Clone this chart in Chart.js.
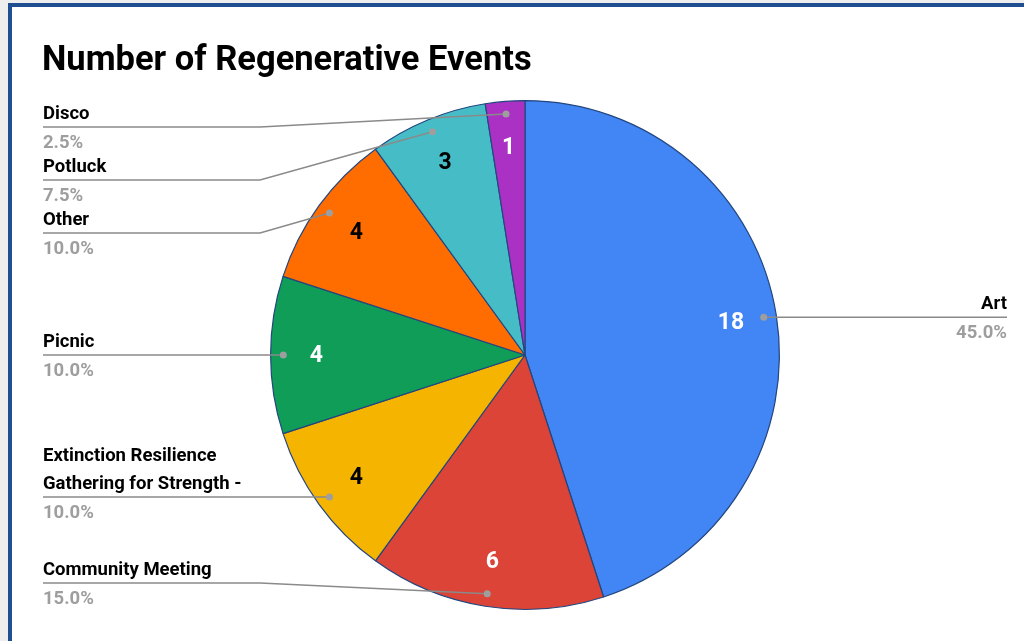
<!DOCTYPE html>
<html>
<head>
<meta charset="utf-8">
<script src="https://cdn.jsdelivr.net/npm/chart.js@4"></script>
<style>
html,body{margin:0;padding:0;background:#fff;}
#wrap{position:absolute;left:0;top:0;width:1024px;height:641px;}
</style>
</head>
<body>
<div id="wrap"><canvas id="c" width="1024" height="641"></canvas></div>
<script>
const title = "Number of Regenerative Events";
const categories = ["Art", "Community Meeting", "Extinction Resilience Gathering for Strength -", "Picnic", "Other", "Potluck", "Disco"];
const values = [18, 6, 4, 4, 4, 3, 1];
const colors = ["#4285f4", "#db4437", "#f4b400", "#0f9d58", "#ff6d01", "#46bdc6", "#ab30c4"];
const valueLabelColors = ["#ffffff", "#ffffff", "#000000", "#ffffff", "#000000", "#000000", "#ffffff"];

const FONT = "Roboto, 'Liberation Sans', sans-serif";

const framePlugin = {
  id: 'frame',
  beforeDraw(chart) {
    const ctx = chart.ctx;
    ctx.save();
    ctx.fillStyle = '#ffffff';
    ctx.fillRect(0, 0, 1024, 641);
    ctx.fillStyle = '#eeeeee';
    ctx.fillRect(0, 0, 1024, 3);
    ctx.fillRect(0, 0, 8, 641);
    ctx.fillStyle = '#1f4e91';
    ctx.fillRect(8, 3, 1016, 4);
    ctx.fillRect(8, 3, 4, 638);
    ctx.fillStyle = '#000';
    ctx.font = 'bold 34.5px ' + FONT;
    ctx.textBaseline = 'middle';
    ctx.textAlign = 'left';
    ctx.fillText(title, 42, 61);
    ctx.restore();
  }
};

function wrapText(ctx, text, maxW) {
  const words = text.split(' ');
  const lines = [];
  let cur = '';
  for (const w of words) {
    const t = cur ? cur + ' ' + w : w;
    if (ctx.measureText(t).width > maxW && cur) { lines.push(cur); cur = w; }
    else cur = t;
  }
  if (cur) lines.push(cur);
  return lines;
}

const labelPlugin = {
  id: 'labels',
  afterDatasetsDraw(chart) {
    const ctx = chart.ctx;
    const meta = chart.getDatasetMeta(0);
    const total = values.reduce((a, b) => a + b, 0);
    ctx.save();
    ctx.font = 'bold 18.5px ' + FONT;
    const items = meta.data.map((arc, i) => {
      const p = arc.getProps(['x', 'y', 'startAngle', 'endAngle', 'outerRadius'], true);
      const mid = (p.startAngle + p.endAngle) / 2;
      const r = p.outerRadius;
      return {
        i, cx: p.x, cy: p.y, r, mid,
        dotX: p.x + Math.cos(mid) * r * 0.95,
        dotY: p.y + Math.sin(mid) * r * 0.95,
        valX: p.x + Math.cos(mid) * r * 0.82,
        valY: p.y + Math.sin(mid) * r * 0.82,
        right: Math.cos(mid) > 0,
        lines: wrapText(ctx, categories[i], 225)
      };
    });
    // value labels
    ctx.font = 'bold 23px ' + FONT;
    ctx.textAlign = 'center';
    ctx.textBaseline = 'middle';
    items.forEach(it => {
      ctx.fillStyle = valueLabelColors[it.i];
      ctx.fillText(String(values[it.i]), it.valX, it.valY + 1);
    });
    // layout outside labels
    const minY = 127, maxY = 583, gap = 53, lineH = 28;
    ['left', 'right'].forEach(side => {
      const arr = items.filter(it => (side === 'right') === it.right).sort((a, b) => a.dotY - b.dotY);
      arr.forEach((it, k) => {
        let y = Math.min(Math.max(it.dotY, minY), maxY);
        if (k > 0) {
          const need = arr[k - 1].lineY + gap + lineH * (it.lines.length - 1);
          if (y < need) y = need;
        }
        it.lineY = y;
      });
      for (let k = arr.length - 1; k >= 0; k--) {
        if (arr[k].lineY > maxY) arr[k].lineY = maxY;
        if (k < arr.length - 1) {
          const lim = arr[k + 1].lineY - gap - lineH * (arr[k + 1].lines.length - 1);
          if (arr[k].lineY > lim) arr[k].lineY = lim;
        }
      }
    });
    items.forEach(it => {
      const startX = it.right ? 1007 : 43;
      const elbowX = it.right ? 790 : 260;
      ctx.strokeStyle = '#8a8a8a';
      ctx.lineWidth = 1.5;
      ctx.beginPath();
      ctx.moveTo(startX, it.lineY);
      ctx.lineTo(elbowX, it.lineY);
      ctx.lineTo(it.dotX, it.dotY);
      ctx.stroke();
      ctx.fillStyle = '#9e9e9e';
      ctx.beginPath();
      ctx.arc(it.dotX, it.dotY, 3.5, 0, Math.PI * 2);
      ctx.fill();
      ctx.font = 'bold 18.5px ' + FONT;
      ctx.textAlign = it.right ? 'right' : 'left';
      ctx.textBaseline = 'middle';
      ctx.fillStyle = '#000000';
      const n = it.lines.length;
      it.lines.forEach((ln, j) => {
        ctx.fillText(ln, startX, it.lineY - 13 - lineH * (n - 1 - j));
      });
      ctx.fillStyle = '#9e9e9e';
      ctx.fillText((values[it.i] / total * 100).toFixed(1) + '%', startX, it.lineY + 16);
    });
    ctx.restore();
  }
};

new Chart(document.getElementById('c'), {
  type: 'pie',
  data: {
    labels: categories,
    datasets: [{
      data: values,
      backgroundColor: colors,
      borderColor: '#23467f',
      borderWidth: 1.2
    }]
  },
  options: {
    responsive: false,
    animation: false,
    layout: { padding: { top: 100, bottom: 31, left: 26, right: 0 } },
    plugins: {
      legend: { display: false },
      tooltip: { enabled: false },
      title: { display: false }
    }
  },
  plugins: [framePlugin, labelPlugin]
});
</script>
</body>
</html>
